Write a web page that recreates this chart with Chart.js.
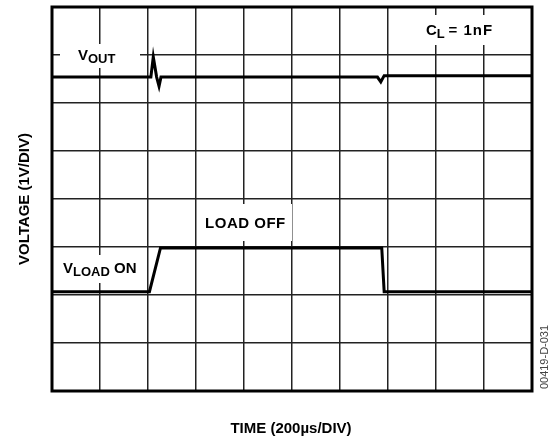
<!DOCTYPE html>
<html>
<head>
<meta charset="utf-8">
<script src="https://cdn.jsdelivr.net/npm/chart.js@4"></script>
<style>
html,body{margin:0;padding:0;background:#fff;}
#c{display:block;}
</style>
</head>
<body>
<canvas id="c" width="556" height="440"></canvas>
<script>
// Time in divisions (200 µs/div), voltage in divisions (1 V/div)
const voutTime  = [0, 2.06, 2.11, 2.18, 2.23, 2.27, 6.78, 6.85, 6.92, 10];
const voutVolts = [6.54, 6.54, 6.96, 6.54, 6.35, 6.54, 6.54, 6.44, 6.57, 6.57];
const vloadTime  = [0, 2.03, 2.26, 6.87, 6.92, 10];
const vloadVolts = [2.07, 2.07, 2.98, 2.98, 2.07, 2.07];
const xTitle = 'TIME (200\u00B5s/DIV)';
const yTitle = 'VOLTAGE (1V/DIV)';
const FONT = '"Liberation Sans", Arial, sans-serif';

const toPts = (xs, ys) => xs.map((x, i) => ({x: x, y: ys[i]}));

const annot = {
  id: 'annot',
  beforeDatasetsDraw(chart) {
    const ctx = chart.ctx;
    ctx.save();
    ctx.fillStyle = '#fff';
    // white boxes behind labels (break grid lines)
    ctx.fillRect(60, 44, 80, 24);
    ctx.fillRect(418, 15, 87, 30);
    ctx.fillRect(198, 204, 94, 37);
    ctx.fillRect(57, 255, 86, 28);
    ctx.restore();
  },
  afterDatasetsDraw(chart) {
    const ctx = chart.ctx;
    const xs = chart.scales.x, ys = chart.scales.y;
    const px = v => xs.getPixelForValue(v), py = v => ys.getPixelForValue(v);
    ctx.save();
    ctx.fillStyle = '#000';
    ctx.textBaseline = 'alphabetic';
    ctx.textAlign = 'left';
    function sub(main, s, after, x, y, afterX, afterSpacing) {
      ctx.letterSpacing = '0px';
      ctx.font = 'bold 15px ' + FONT;
      ctx.fillText(main, x, y);
      let w = ctx.measureText(main).width;
      ctx.font = 'bold 13px ' + FONT;
      ctx.fillText(s, x + w, y + 3);
      w += ctx.measureText(s).width;
      if (after) {
        ctx.font = 'bold 15px ' + FONT;
        if (afterSpacing) ctx.letterSpacing = afterSpacing;
        ctx.fillText(after, afterX !== undefined ? afterX : x + w, y);
        ctx.letterSpacing = '0px';
      }
    }
    sub('V', 'OUT', '', px(0.54), py(6.89));
    sub('C', 'L', '= 1nF', px(7.79), py(7.42), px(8.26), '1px');
    sub('V', 'LOAD', ' ON', px(0.23), py(2.46));
    ctx.font = 'bold 15px ' + FONT;
    ctx.letterSpacing = '0.5px';
    ctx.fillText('LOAD OFF', px(3.19), py(3.40));
    ctx.letterSpacing = '0px';
    ctx.restore();
  },
  afterDraw(chart) {
    const ctx = chart.ctx;
    const a = chart.chartArea;
    ctx.save();
    ctx.strokeStyle = '#000';
    ctx.lineWidth = 3;
    ctx.strokeRect(a.left, a.top, a.right - a.left, a.bottom - a.top);
    // axis titles
    ctx.fillStyle = '#000';
    ctx.font = 'bold 15px ' + FONT;
    ctx.textAlign = 'center';
    ctx.textBaseline = 'middle';
    ctx.fillText(xTitle, (a.left + a.right) / 2 - 1, a.bottom + 38);
    ctx.save();
    ctx.translate(a.left - 27, (a.top + a.bottom) / 2);
    ctx.rotate(-Math.PI / 2);
    ctx.fillText(yTitle, 0, 0);
    ctx.restore();
    // figure code
    ctx.save();
    ctx.fillStyle = '#444';
    ctx.font = '11px ' + FONT;
    ctx.translate(545, 357);
    ctx.rotate(-Math.PI / 2);
    ctx.fillText('00419-D-031', 0, 0);
    ctx.restore();
    ctx.restore();
  }
};

new Chart(document.getElementById('c'), {
  type: 'line',
  data: {
    datasets: [
      {label: 'VOUT', data: toPts(voutTime, voutVolts), borderColor: '#000', borderWidth: 3, pointRadius: 0, tension: 0, fill: false},
      {label: 'VLOAD', data: toPts(vloadTime, vloadVolts), borderColor: '#000', borderWidth: 3, pointRadius: 0, tension: 0, fill: false}
    ]
  },
  options: {
    responsive: false,
    animation: false,
    devicePixelRatio: 1,
    layout: {padding: {left: 52, right: 24, top: 7, bottom: 49}},
    plugins: {legend: {display: false}, tooltip: {enabled: false}},
    scales: {
      x: {
        type: 'linear', min: 0, max: 10,
        ticks: {display: false, stepSize: 1},
        grid: {color: '#222', lineWidth: 1.5, drawTicks: false},
        border: {display: false}
      },
      y: {
        type: 'linear', min: 0, max: 8,
        ticks: {display: false, stepSize: 1},
        grid: {color: '#222', lineWidth: 1.5, drawTicks: false},
        border: {display: false}
      }
    }
  },
  plugins: [annot]
});
</script>
</body>
</html>
